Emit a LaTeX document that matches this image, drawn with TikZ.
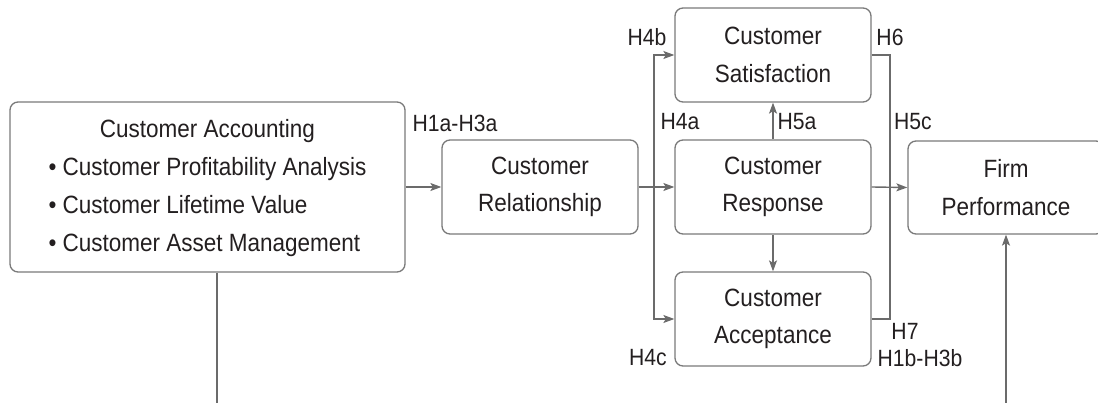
\documentclass[tikz,border=0pt]{standalone}
\usepackage{fontspec}
\setmainfont{Liberation Sans}[FakeStretch=0.9]
\usetikzlibrary{arrows.meta}
\definecolor{linegray}{HTML}{6B6B6B}
\definecolor{boxgray}{HTML}{7A7A7A}
\definecolor{txt}{HTML}{231F20}
\begin{document}
\begin{tikzpicture}[x=1pt,y=-1pt,
  box/.style={draw=boxgray,line width=1.3pt,rounded corners=8pt,fill=white,
    text=txt,align=center,inner sep=0pt,
    font=\fontsize{25}{37.7}\selectfont},
  conn/.style={draw=linegray,line width=1.4pt},
  arr/.style={conn,-{Stealth[length=11pt,width=8pt,inset=2.5pt]}},
  lab/.style={text=txt,inner sep=0pt,font=\fontsize{23.5}{25}\selectfont}]
\useasboundingbox (0,0) rectangle (1098,403);
\clip (0,0) rectangle (1098,403);
% boxes
\node[box,minimum width=395pt,minimum height=170pt] (acc) at (207.5,187)
  {\begin{tabular}{@{}l@{}}\multicolumn{1}{@{}c@{}}{Customer Accounting}\\
   \textbullet\ Customer Profitability Analysis\\
   \textbullet\ Customer Lifetime Value\\
   \textbullet\ Customer Asset Management\end{tabular}};
\node[box,minimum width=196pt,minimum height=94pt] (rel) at (540,187) {Customer\\Relationship};
\node[box,minimum width=196pt,minimum height=94pt] (sat) at (773,55) {Customer\\Satisfaction};
\node[box,minimum width=196pt,minimum height=94pt] (resp) at (773,187) {Customer\\Response};
\node[box,minimum width=196pt,minimum height=94pt] (accp) at (773,319) {Customer\\Acceptance};
\node[box,minimum width=196pt,minimum height=93pt] (firm) at (1006,187.5) {Firm\\Performance};
% coordinates
\coordinate (br) at (654,187);
\coordinate (jx) at (890,187);
\coordinate (b1) at (217,403);
\coordinate (b2) at (1006,403);
% connectors
\draw[arr] (acc.east) -- (rel.west);
\draw[arr] (rel.east) -- (resp.west);
\draw[arr] (br) |- (sat.west);
\draw[arr] (br) |- (accp.west);
\draw[arr] (resp.north) -- (sat.south);
\draw[arr] (resp.south) -- (accp.north);
\draw[conn] (sat.east) -| (jx) |- (accp.east);
\draw[arr] (resp.east) -- (firm.west);
\draw[conn] (b1 |- acc.south) -- (b1);
\draw[arr] (b2) -- (firm.south);
% labels
\node[lab] (l1) at (455,123) {H1a-H3a};
\node[lab] (l2) at (647,37) {H4b};
\node[lab] (l3) at (680,122) {H4a};
\node[lab] (l4) at (797,122) {H5a};
\node[lab] (l5) at (890,37) {H6};
\node[lab] (l6) at (913,122) {H5c};
\node[lab] (l7) at (905,331) {H7};
\node[lab] (l8) at (920,358) {H1b-H3b};
\node[lab] (l9) at (648,358) {H4c};
\end{tikzpicture}
\end{document}
